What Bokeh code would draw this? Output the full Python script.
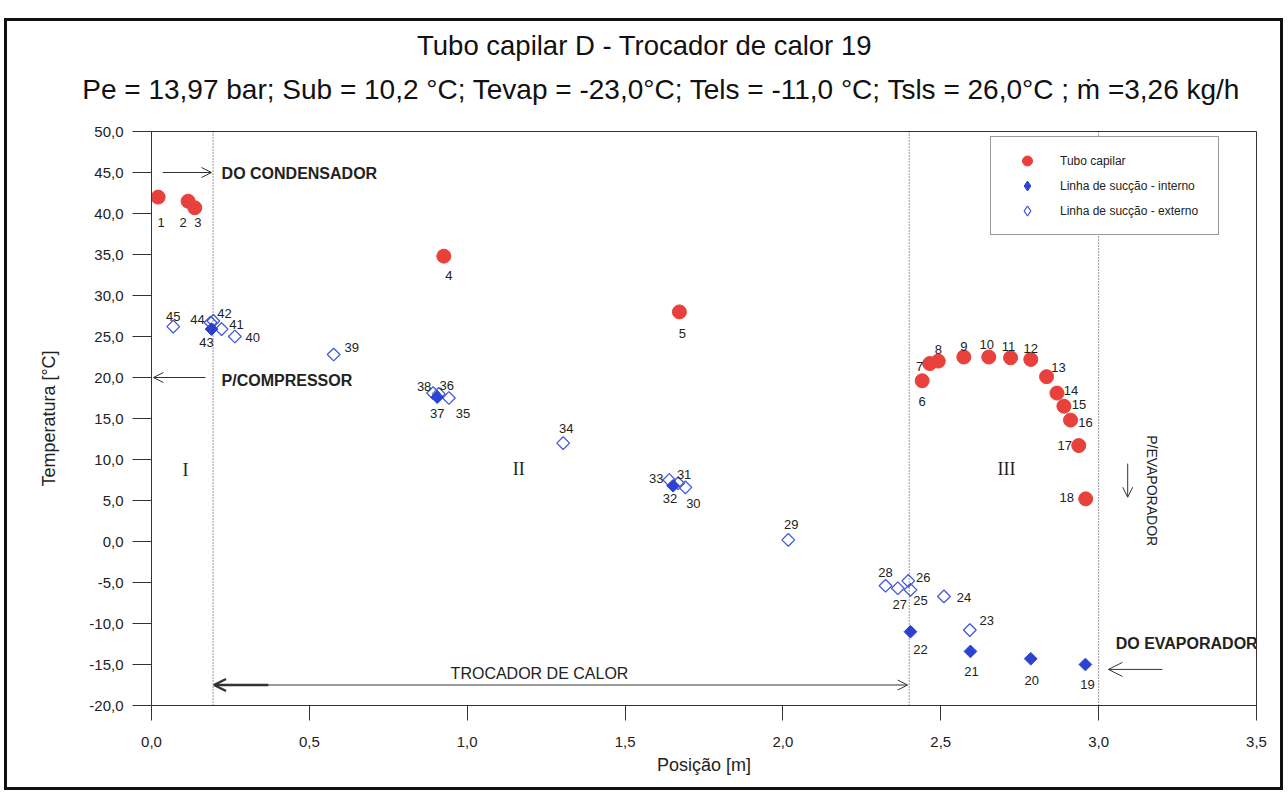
import math
from bokeh.plotting import figure
from bokeh.models import (ColumnDataSource, Span, Arrow, OpenHead, Label,
                          FixedTicker, Legend, LegendItem, Range1d, InlineStyleSheet)
from bokeh.embed import file_html
from bokeh.resources import INLINE
from bokeh.core.properties import value

# ---------------- data ----------------
capilar_id = [1, 2, 3, 4, 5, 6, 7, 8, 9, 10, 11, 12, 13, 14, 15, 16, 17, 18]
capilar_pos = [0.021, 0.116, 0.137, 0.926, 1.672, 2.441, 2.465, 2.492, 2.573, 2.652,
               2.721, 2.785, 2.835, 2.868, 2.890, 2.911, 2.937, 2.959]
capilar_temp = [42.0, 41.5, 40.7, 34.8, 28.0, 19.6, 21.7, 22.0, 22.5, 22.5,
                22.4, 22.2, 20.1, 18.1, 16.5, 14.8, 11.7, 5.2]

interno_id = [19, 20, 21, 22, 32, 37, 43]
interno_pos = [2.958, 2.785, 2.594, 2.404, 1.652, 0.905, 0.190]
interno_temp = [-15.0, -14.3, -13.4, -11.0, 6.8, 17.6, 25.9]

externo_id = [23, 24, 25, 26, 27, 28, 29, 30, 31, 33, 34, 35, 36, 38, 39, 40, 41, 42, 44, 45]
externo_pos = [2.592, 2.510, 2.404, 2.397, 2.364, 2.325, 2.017, 1.691, 1.668, 1.640,
               1.304, 0.942, 0.910, 0.892, 0.577, 0.264, 0.222, 0.196, 0.187, 0.069]
externo_temp = [-10.8, -6.7, -5.9, -4.8, -5.7, -5.4, 0.2, 6.6, 7.1, 7.5,
                12.0, 17.5, 18.0, 18.1, 22.8, 25.0, 25.9, 26.9, 26.7, 26.2]

x_ticks = [0.0, 0.5, 1.0, 1.5, 2.0, 2.5, 3.0, 3.5]
x_tick_labels = ["0,0", "0,5", "1,0", "1,5", "2,0", "2,5", "3,0", "3,5"]
y_ticks = [-20, -15, -10, -5, 0, 5, 10, 15, 20, 25, 30, 35, 40, 45, 50]
y_tick_labels = ["-20,0", "-15,0", "-10,0", "-5,0", "0,0", "5,0", "10,0", "15,0",
                 "20,0", "25,0", "30,0", "35,0", "40,0", "45,0", "50,0"]

legend_labels = ["Tubo capilar", "Linha de sucção - interno", "Linha de sucção - externo"]
title_text = "Tubo capilar D - Trocador de calor 19"
subtitle_text = "Pe = 13,97 bar; Sub = 10,2 °C; Tevap = -23,0°C; Tels = -11,0 °C; Tsls = 26,0°C ; ṁ  =3,26 kg/h"

# ---------------- layout (label offsets in screen px, +y is down) ----------------
label_offsets = {
    1: (3, 25), 2: (-5, 21), 3: (3, 15), 4: (5, 19), 5: (3, 22), 6: (0, 21),
    7: (-10, 3), 8: (0, -12), 9: (0, -11), 10: (-2, -13), 11: (-2, -11), 12: (0, -11),
    13: (12, -9), 14: (14, -3), 15: (15, -2), 16: (15, 2), 17: (-14, 0), 18: (-19, -1),
    19: (2, 20), 20: (1, 22), 21: (1, 20), 22: (10, 18), 23: (17, -10), 24: (20, 1),
    25: (10, 11), 26: (15, -3), 27: (2, 16), 28: (0, -13), 29: (3, -15), 30: (8, 16),
    31: (6, -9), 32: (-3, 13), 33: (-13, -2), 34: (3, -15), 35: (14, 15), 36: (8, -8),
    37: (0, 16), 38: (-9, -7), 39: (18, -7), 40: (18, 1), 41: (15, -5), 42: (11, -7),
    43: (-5, 13), 44: (-13, -3), 45: (0, -10),
}

RED = "#e8403a"
BLUE = "#2c42d2"
BLUE_OPEN = "#4458dc"
FONT = "Liberation Sans"
INK = "#222222"

frame_css = InlineStyleSheet(css="""
:host { position: relative; }
:host::after {
  content: ""; position: absolute; left: 4px; top: 18px; width: 1279px; height: 772px;
  border: 3px solid #111111; box-sizing: border-box; pointer-events: none;
}
""")

p = figure(width=1288, height=793, output_backend="svg", toolbar_location=None,
           x_range=Range1d(0, 3.5), y_range=Range1d(-20, 50),
           min_border_left=151, min_border_right=32, min_border_top=131, min_border_bottom=88,
           stylesheets=[frame_css])
p.grid.visible = False
p.background_fill_color = "white"
p.border_fill_color = "white"
p.outline_line_color = "#333333"
p.outline_line_width = 1

# axes
p.xaxis.ticker = FixedTicker(ticks=x_ticks)
p.xaxis.major_label_overrides = {t: l for t, l in zip(x_ticks, x_tick_labels)}
p.yaxis.ticker = FixedTicker(ticks=y_ticks)
p.yaxis.major_label_overrides = {t: l for t, l in zip(y_ticks, y_tick_labels)}
for ax in (p.xaxis[0], p.yaxis[0]):
    ax.minor_tick_line_color = None
    ax.major_tick_in = 0
    ax.axis_line_color = "#333333"
    ax.major_tick_line_color = "#333333"
    ax.major_label_text_font = FONT
    ax.major_label_text_font_size = "15px"
    ax.major_label_text_color = INK
    ax.axis_label_text_font = FONT
    ax.axis_label_text_font_style = "normal"
    ax.axis_label_text_font_size = "18px"
    ax.axis_label_text_color = INK
p.xaxis.major_tick_out = 15
p.yaxis.major_tick_out = 19
p.xaxis.major_label_standoff = 16
p.yaxis.major_label_standoff = 9
p.xaxis.axis_label = "Posição [m]"
p.yaxis.axis_label = "Temperatura [°C]"
p.xaxis.axis_label_standoff = 5
p.yaxis.axis_label_standoff = 27

# dotted section lines
for xv in (0.195, 2.4, 3.0):
    p.add_layout(Span(location=xv, dimension="height", line_color="#333333",
                      line_width=1, line_dash="1 2"))

# data marks
src_c = ColumnDataSource(dict(x=capilar_pos, y=capilar_temp))
src_i = ColumnDataSource(dict(x=interno_pos, y=interno_temp))
src_e = ColumnDataSource(dict(x=externo_pos, y=externo_temp))

p.scatter("x", "y", source=src_e, marker="square", angle=math.pi / 4, size=9,
          fill_color="white", fill_alpha=0.0, line_color=BLUE_OPEN, line_width=1.3)
p.scatter("x", "y", source=src_i, marker="square", angle=math.pi / 4, size=9,
          fill_color=BLUE, line_color=BLUE, line_width=1)
r_c = p.scatter("x", "y", source=src_c, marker="circle", size=14,
                fill_color=RED, line_color=RED)

# key-only glyphs (hidden on the plot, shown as diamonds in the legend)
r_i_key = p.scatter("x", "y", source=src_i, marker="diamond", size=12,
                    fill_color=BLUE, line_color=BLUE, visible=False)
r_e_key = p.scatter("x", "y", source=src_e, marker="diamond", size=12,
                    fill_color="white", fill_alpha=0.0, line_color=BLUE_OPEN, line_width=1.3,
                    visible=False)

# point number labels
all_ids = capilar_id + interno_id + externo_id
all_x = capilar_pos + interno_pos + externo_pos
all_y = capilar_temp + interno_temp + externo_temp
src_l = ColumnDataSource(dict(x=all_x, y=all_y, t=[str(i) for i in all_ids],
                              dx=[label_offsets[i][0] for i in all_ids],
                              dy=[label_offsets[i][1] for i in all_ids]))
p.text("x", "y", text="t", source=src_l, x_offset="dx", y_offset="dy",
       text_align="center", text_baseline="middle", text_font=value(FONT),
       text_font_size="13px", text_color=INK)

# annotations text
def add_label(x, y, text, size="16px", style="normal", font=FONT, align="left", angle=0.0):
    p.add_layout(Label(x=x, y=y, text=text, text_font=font, text_font_size=size,
                       text_font_style=style, text_align=align, text_baseline="middle",
                       text_color=INK, angle=angle))

add_label(0.222, 44.9, "DO CONDENSADOR", size="16px", style="bold")
add_label(0.222, 19.6, "P/COMPRESSOR", size="16px", style="bold")
add_label(1.229, -16.1, "TROCADOR DE CALOR", size="16px", align="center")
add_label(3.054, -12.4, "DO EVAPORADOR", size="16px", style="bold")
add_label(3.168, 6.2, "P/EVAPORADOR", size="14px", align="center", angle=-math.pi / 2)
add_label(0.108, 8.7, "I", size="18px", font="Liberation Serif", align="center")
add_label(1.163, 8.9, "II", size="18px", font="Liberation Serif", align="center")
add_label(2.708, 8.9, "III", size="18px", font="Liberation Serif", align="center")

# arrows
def add_arrow(x0, y0, x1, y1, w=1.0, head=10):
    p.add_layout(Arrow(x_start=x0, y_start=y0, x_end=x1, y_end=y1, line_color="#333333",
                       line_width=w, end=OpenHead(size=head, line_color="#333333", line_width=w)))

add_arrow(0.035, 45.0, 0.19, 45.0)
add_arrow(0.171, 20.0, 0.006, 20.0)
add_arrow(0.2, -17.5, 2.395, -17.5)
add_arrow(0.37, -17.5, 0.198, -17.5, w=2.5, head=12)
add_arrow(3.202, -15.6, 3.031, -15.6, head=14)
add_arrow(3.092, 9.5, 3.092, 5.4)

# titles: labels in the top panel (screen px)
p.add_layout(Label(x=493, y=86, x_units="screen", y_units="screen", text=title_text,
                   text_font=FONT, text_font_size="27.5px", text_align="center",
                   text_baseline="middle", text_color="#111111"), "above")
p.add_layout(Label(x=514, y=11, x_units="screen", y_units="screen", text=subtitle_text,
                   text_font=FONT, text_font_size="28px", text_align="center",
                   text_baseline="middle", text_color="#111111"), "above")

# legend
legend = Legend(items=[LegendItem(label=legend_labels[0], renderers=[r_c]),
                       LegendItem(label=legend_labels[1], renderers=[r_i_key]),
                       LegendItem(label=legend_labels[2], renderers=[r_e_key])],
                location=(839, 470), orientation="vertical",
                glyph_width=50, glyph_height=25, spacing=0, padding=11, margin=0,
                label_standoff=8, label_width=147, label_height=25,
                label_text_font=FONT, label_text_font_size="12px", label_text_color=INK,
                border_line_color="#333333", border_line_width=1,
                background_fill_color="white", background_fill_alpha=1,
                inactive_fill_alpha=0.0)
p.add_layout(legend, "center")

open("out.html", "w").write(file_html(p, INLINE))
